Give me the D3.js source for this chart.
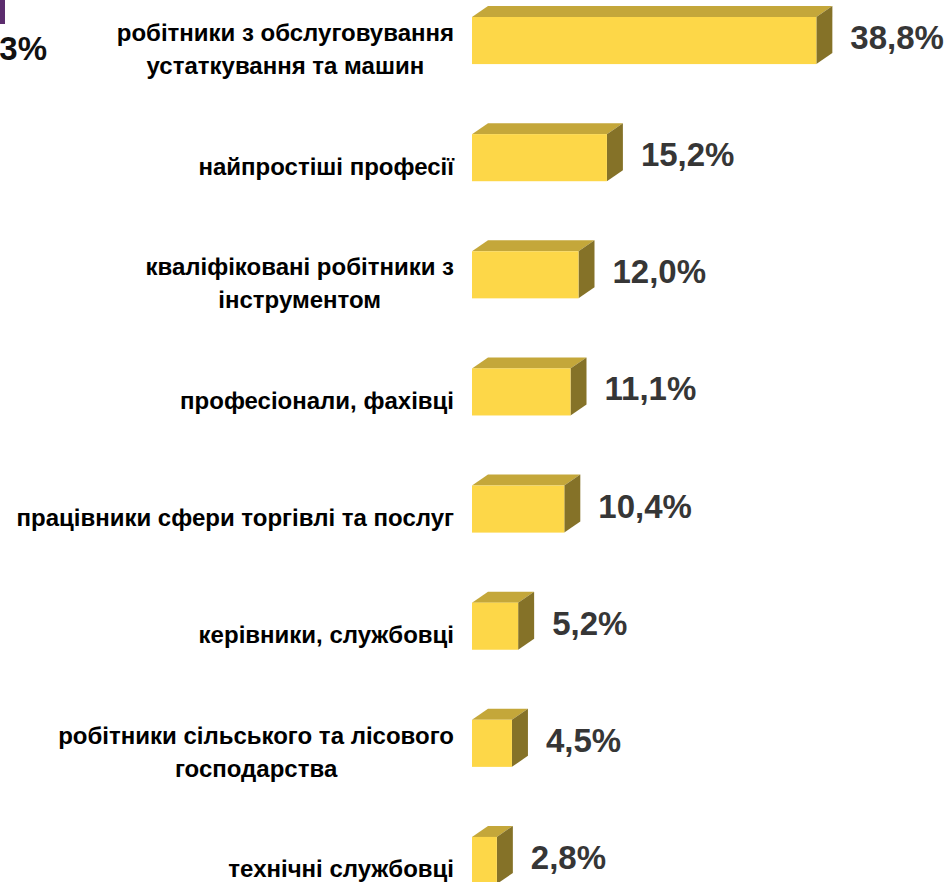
<!DOCTYPE html>
<html>
<head>
<meta charset="utf-8">
<script src="https://cdn.jsdelivr.net/npm/d3@7"></script>
<style>
  body { margin: 0; background: #fff; }
  svg { display: block; font-family: "Liberation Sans", Arial, sans-serif; }
</style>
</head>
<body>
<svg id="chart" width="947" height="882"></svg>
<script>
// categories (multi-line labels split by "|")
var categories = [
    "робітники з обслуговування|устаткування та машин",
    "найпростіші професії",
    "кваліфіковані робітники з|інструментом",
    "професіонали, фахівці",
    "працівники сфери торгівлі та послуг",
    "керівники, службовці",
    "робітники сільського та лісового|господарства",
    "технічні службовці"
];
var values = [38.8, 15.2, 12.0, 11.1, 10.4, 5.2, 4.5, 2.8];
var valueLabels = ["38,8%", "15,2%", "12,0%", "11,1%", "10,4%", "5,2%", "4,5%", "2,8%"];

var data = categories.map(function (c, i) {
    return { name: c, value: values[i], label: valueLabels[i] };
});

var svg = d3.select("#chart");

// bar 3d depth
var dx = 16, dy = 11;

var xScale = d3.scaleLinear()
    .domain([0, 40])
    .range([472, 472 + 355]);

var yScale = d3.scaleBand()
    .domain(categories)
    .range([17, 884])
    .paddingInner(0.598)
    .paddingOuter(0);

var bw = yScale.bandwidth();

var bars = svg.append("g").selectAll("g")
    .data(data)
    .enter().append("g");

// top face
bars.append("path")
    .attr("d", function (d) {
        var x0 = xScale(0), x1 = xScale(d.value), y0 = yScale(d.name);
        return "M" + x0 + "," + y0 + "L" + (x0 + dx) + "," + (y0 - dy) +
            "L" + (x1 + dx) + "," + (y0 - dy) + "L" + x1 + "," + y0 + "Z";
    })
    .style("fill", "#c4a73a");

// side face
bars.append("path")
    .attr("d", function (d) {
        var x1 = xScale(d.value), y0 = yScale(d.name);
        return "M" + x1 + "," + y0 + "L" + (x1 + dx) + "," + (y0 - dy) +
            "L" + (x1 + dx) + "," + (y0 + bw - dy) + "L" + x1 + "," + (y0 + bw) + "Z";
    })
    .style("fill", "#857228");

// front face
bars.append("rect")
    .attr("x", xScale(0))
    .attr("y", function (d) { return yScale(d.name); })
    .attr("width", function (d) { return xScale(d.value) - xScale(0); })
    .attr("height", bw)
    .style("fill", "#fdd748");

// value labels
bars.append("text")
    .attr("x", function (d) { return xScale(d.value) + 34; })
    .attr("y", function (d) { return yScale(d.name) + bw / 2 - 3; })
    .attr("dominant-baseline", "central")
    .style("font-size", "33px")
    .style("font-weight", "bold")
    .style("fill", "#363636")
    .text(function (d) { return d.label; });

// category labels: block right-aligned, lines centred
var lineH = 33;
var labels = svg.append("g").selectAll("text")
    .data(data)
    .enter().append("text")
    .attr("dominant-baseline", "central")
    .style("font-size", "24px")
    .style("font-weight", "bold")
    .style("fill", "#000");

labels.each(function (d) {
    var lines = d.name.split("|");
    var cy = yScale(d.name) + bw / 2 + 8 - (lines.length - 1) * lineH / 2;
    var t = d3.select(this);
    lines.forEach(function (l, i) {
        t.append("tspan").attr("y", cy + i * lineH).text(l);
    });
    var spans = t.selectAll("tspan").nodes();
    var w = d3.max(spans, function (s) { return s.getComputedTextLength(); });
    var right = 454;
    t.selectAll("tspan")
        .attr("x", right - w / 2)
        .attr("text-anchor", "middle");
});

// fragment of neighbouring chart at top-left edge
svg.append("rect")
    .attr("x", 0).attr("y", 0)
    .attr("width", 5).attr("height", 24)
    .style("fill", "#5c2d6e");
svg.append("text")
    .attr("x", 47).attr("y", 60)
    .attr("text-anchor", "end")
    .style("font-size", "33px")
    .style("font-weight", "bold")
    .style("fill", "#111")
    .text("3%");
</script>
</body>
</html>
